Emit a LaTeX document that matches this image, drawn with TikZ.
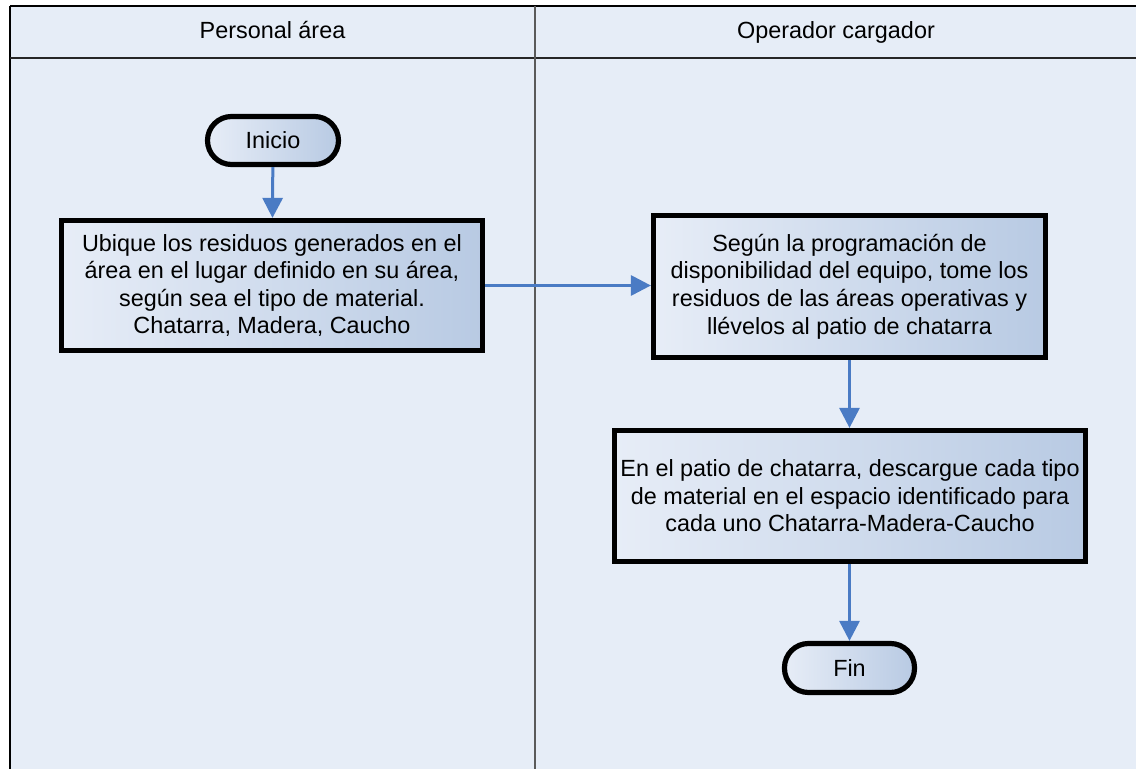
\documentclass[tikz,border=0pt]{standalone}
\usepackage{fontspec}
\setmainfont{Liberation Sans}
\usetikzlibrary{arrows.meta}
\definecolor{lanebg}{HTML}{E6EDF7}
\definecolor{boxlight}{HTML}{E7EDF7}
\definecolor{boxdark}{HTML}{B8CAE3}
\definecolor{flowblue}{HTML}{4A7BC4}
\definecolor{lanegray}{HTML}{5A5A5A}
\newcommand{\txt}{\fontsize{11.7}{13.8}\selectfont}
\tikzset{
    proc/.style={draw=black, line width=2.6pt, left color=boxlight, right color=boxdark,
        align=center, inner sep=0pt, font=\txt},
    term/.style={proc, rounded corners=12pt},
    flow/.style={draw=flowblue, line width=1.5pt, -{Triangle[length=10pt,width=10pt]}},
    lane/.style={font=\txt, anchor=base}
}

\begin{document}
\begin{tikzpicture}[x=0.5pt, y=-0.5pt]
    \useasboundingbox (0,0) rectangle (1136,769);
    \clip (0,0) rectangle (1136,769);
    \fill[lanebg] (10,6) rectangle (1140,775);
    \draw[black, line width=0.8pt] (10,6) -- (1140,6);
    \draw[black, line width=1pt] (10,6) -- (10,775);
    \draw[black!85, line width=1pt] (10,58) -- (1140,58);
    \draw[lanegray, line width=1pt] (535,6) -- (535,775);
    \node[lane] (hdrA) at (272.5,39) {Personal área};
    \node[lane] (hdrB) at (836,39) {Operador cargador};
    \node[term, minimum width=65.5pt, minimum height=24pt] (inicio) at (273,140.5) {Inicio};
    \node[proc, minimum width=210.5pt, minimum height=65pt] (ubique) at (272,285.5)
        {Ubique los residuos generados en el\\área en el lugar definido en su área,\\según sea el tipo de material.\\Chatarra, Madera, Caucho};
    \node[proc, minimum width=196pt, minimum height=71pt] (tome) at (849.5,286.5)
        {Según la programación de\\disponibilidad del equipo, tome los\\residuos de las áreas operativas y\\llévelos al patio de chatarra};
    \node[proc, minimum width=235.5pt, minimum height=65.5pt] (descargue) at (850,496)
        {En el patio de chatarra, descargue cada tipo\\de material en el espacio identificado para\\cada uno Chatarra-Madera-Caucho};
    \node[term, minimum width=65pt, minimum height=24.5pt] (fin) at (849.5,668) {Fin};
    \draw[flow] (inicio) -- (ubique);
    \draw[flow] (ubique.east) -- (ubique.east -| tome.west);
    \draw[flow] (tome.south) -- (tome.south |- descargue.north);
    \draw[flow] (descargue.south -| fin.north) -- (fin.north);
\end{tikzpicture}
\end{document}
